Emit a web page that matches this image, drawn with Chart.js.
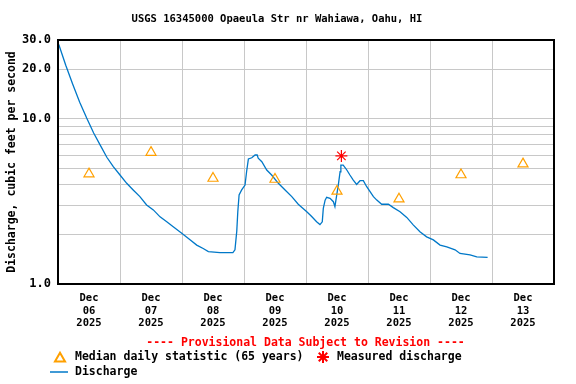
<!DOCTYPE html>
<html>
<head>
<meta charset="utf-8">
<script src="https://cdn.jsdelivr.net/npm/chart.js@4.4.1/dist/chart.umd.min.js"></script>
<style>
  html, body { margin: 0; padding: 0; background: #fff; }
</style>
</head>
<body>
<canvas id="flowChart" width="576" height="384"></canvas>
<script>
// Data (x = hours since Dec 06 00:00, y = discharge in cfs)
const dayLabels = ["06", "07", "08", "09", "10", "11", "12", "13"];
const dischargeHours = [
    0.3, 3.0, 5.7, 8.4, 11.1, 13.8, 16.5, 18.9, 21.4, 24.0,
    26.6, 29.1, 31.7, 34.3, 36.9, 39.5, 42.1, 44.6, 47.9, 51.1,
    53.7, 56.2, 58.2, 62.7, 67.7, 68.5, 69.2, 69.6, 70.1, 71.1,
    72.4, 73.0, 73.7, 75.0, 76.3, 77.1, 77.5, 78.9, 80.8, 82.7,
    85.3, 87.9, 90.5, 93.0, 96.3, 98.2, 100.1, 101.4, 102.3, 102.7,
    103.4, 104.0, 105.3, 106.6, 107.2, 107.9, 108.5, 109.2, 109.5, 110.4,
    111.8, 113.0, 114.3, 115.6, 116.9, 118.2, 119.5, 120.8, 122.1, 123.4,
    125.3, 127.9, 129.8, 132.4, 135.0, 137.5, 140.1, 142.7, 145.3, 147.9,
    150.5, 153.7, 155.6, 159.5, 162.1, 166.3
];
const dischargeValues = [
    28.2, 21.1, 16.2, 12.6, 10.1, 8.21, 6.86, 5.85, 5.13, 4.57,
    4.07, 3.71, 3.38, 3.01, 2.81, 2.55, 2.38, 2.22, 2.03, 1.85,
    1.72, 1.64, 1.57, 1.55, 1.55, 1.61, 2.09, 2.74, 3.46, 3.71,
    3.97, 4.78, 5.71, 5.81, 6.04, 6.04, 5.77, 5.50, 4.90, 4.57,
    4.07, 3.71, 3.38, 3.04, 2.74, 2.56, 2.38, 2.29, 2.38, 2.87,
    3.22, 3.35, 3.30, 3.15, 2.94, 3.46, 3.97, 4.78, 5.25, 5.25,
    4.90, 4.57, 4.26, 4.01, 4.22, 4.22, 3.88, 3.62, 3.38, 3.22,
    3.04, 3.04, 2.90, 2.74, 2.53, 2.28, 2.07, 1.93, 1.85, 1.72,
    1.68, 1.61, 1.53, 1.50, 1.46, 1.45
];
const medianHours = [12, 36, 60, 84, 108, 132, 156, 180];
const medianValues = [4.64, 6.26, 4.36, 4.30, 3.64, 3.27, 4.58, 5.33];
const measuredHours = [109.7];
const measuredValues = [5.96];
const yGridValues = [1, 2, 3, 4, 5, 6, 7, 8, 9, 10, 20, 30];
const yLabelValues = [1, 10, 20, 30];

const MONO = "'DejaVu Sans Mono', 'Liberation Mono', monospace";
const BLUE = "#0078c8";
const ORANGE = "#ffa000";
const RED = "#ff0000";

function toPoints(xs, ys) {
    return xs.map((x, i) => ({ x, y: ys[i] }));
}

// Plot frame and the USGS-style legend under the axis
const frameAndLegend = {
    id: "frameAndLegend",
    afterDraw(chart) {
        const { ctx, chartArea } = chart;
        ctx.save();
        ctx.strokeStyle = "#000";
        ctx.lineWidth = 2;
        ctx.strokeRect(chartArea.left, chartArea.top,
            chartArea.right - chartArea.left, chartArea.bottom - chartArea.top);

        ctx.font = "bold 11.5px " + MONO;
        ctx.textBaseline = "middle";
        ctx.textAlign = "center";
        ctx.fillStyle = RED;
        ctx.fillText("---- Provisional Data Subject to Revision ----", 305.5, 343);

        ctx.textAlign = "left";
        ctx.strokeStyle = ORANGE;
        ctx.fillStyle = "rgba(0,0,0,0)";
        Chart.helpers.drawPoint(ctx, { pointStyle: "triangle", radius: 5.8, borderWidth: 1.2, rotation: 0 }, 60, 358.5);
        ctx.strokeStyle = RED;
        Chart.helpers.drawPoint(ctx, { pointStyle: "star", radius: 6, borderWidth: 1.2, rotation: 0 }, 323, 357);

        ctx.strokeStyle = BLUE;
        ctx.lineWidth = 1.5;
        ctx.beginPath();
        ctx.moveTo(50, 372);
        ctx.lineTo(68, 372);
        ctx.stroke();

        ctx.fillStyle = "#000";
        ctx.fillText("Median daily statistic (65 years)", 75, 357);
        ctx.fillText("Measured discharge", 337, 357);
        ctx.fillText("Discharge", 75, 372);
        ctx.restore();
    }
};

const flowChart = new Chart(document.getElementById("flowChart"), {
    type: "line",
    data: {
        datasets: [
            {
                label: "Discharge",
                data: toPoints(dischargeHours, dischargeValues),
                borderColor: BLUE,
                borderWidth: 1.3,
                pointRadius: 0,
                tension: 0,
                order: 3,
            },
            {
                label: "Median daily statistic (65 years)",
                data: toPoints(medianHours, medianValues),
                showLine: false,
                pointStyle: "triangle",
                pointRadius: 5.8,
                borderColor: ORANGE,
                backgroundColor: "rgba(0,0,0,0)",
                pointBorderWidth: 1.2,
                order: 2,
            },
            {
                label: "Measured discharge",
                data: toPoints(measuredHours, measuredValues),
                showLine: false,
                pointStyle: "star",
                pointRadius: 6,
                borderColor: RED,
                pointBorderWidth: 1.2,
                order: 1,
            },
        ],
    },
    options: {
        responsive: false,
        animation: false,
        events: [],
        layout: { padding: { top: 0, right: 22, bottom: 0, left: 0 } },
        plugins: {
            legend: { display: false },
            tooltip: { enabled: false },
            title: {
                display: true,
                text: "USGS 16345000 Opaeula Str nr Wahiawa, Oahu, HI",
                color: "#000",
                font: { family: MONO, size: 10.5, weight: "bold" },
                padding: { top: 13, bottom: 14.4 },
            },
        },
        scales: {
            x: {
                type: "linear",
                min: 0,
                max: 192,
                afterBuildTicks: (scale) => {
                    const ticks = [];
                    for (let h = 0; h <= 192; h += 12) ticks.push({ value: h });
                    scale.ticks = ticks;
                },
                afterFit: (scale) => { scale.height = 100; },
                border: { display: false },
                grid: {
                    drawTicks: false,
                    lineWidth: 1,
                    color: (ctx) => (ctx.tick && ctx.tick.value % 24 === 0 ? "#c8c8c8" : "rgba(0,0,0,0)"),
                },
                ticks: {
                    autoSkip: false,
                    maxRotation: 0,
                    padding: 8,
                    color: "#000",
                    font: { family: MONO, size: 10.5, weight: "bold", lineHeight: 1.2 },
                    callback: (v) => (v % 24 === 12 ? ["Dec", dayLabels[(v - 12) / 24], "2025"] : ""),
                },
            },
            y: {
                type: "logarithmic",
                min: 1,
                max: 30,
                afterBuildTicks: (scale) => {
                    scale.ticks = yGridValues.map((v) => ({ value: v }));
                },
                afterFit: (scale) => { scale.width = 58; },
                border: { display: false },
                grid: { drawTicks: false, lineWidth: 1, color: "#c8c8c8" },
                ticks: {
                    autoSkip: false,
                    padding: 7,
                    color: "#000",
                    font: { family: MONO, size: 12, weight: "bold" },
                    callback: (v) => (yLabelValues.includes(v) ? v.toFixed(1) : ""),
                },
                title: {
                    display: true,
                    text: "Discharge, cubic feet per second",
                    color: "#000",
                    font: { family: MONO, size: 11.5, weight: "bold" },
                    padding: { top: 5, bottom: 0 },
                },
            },
        },
    },
    plugins: [frameAndLegend],
});
</script>
</body>
</html>
